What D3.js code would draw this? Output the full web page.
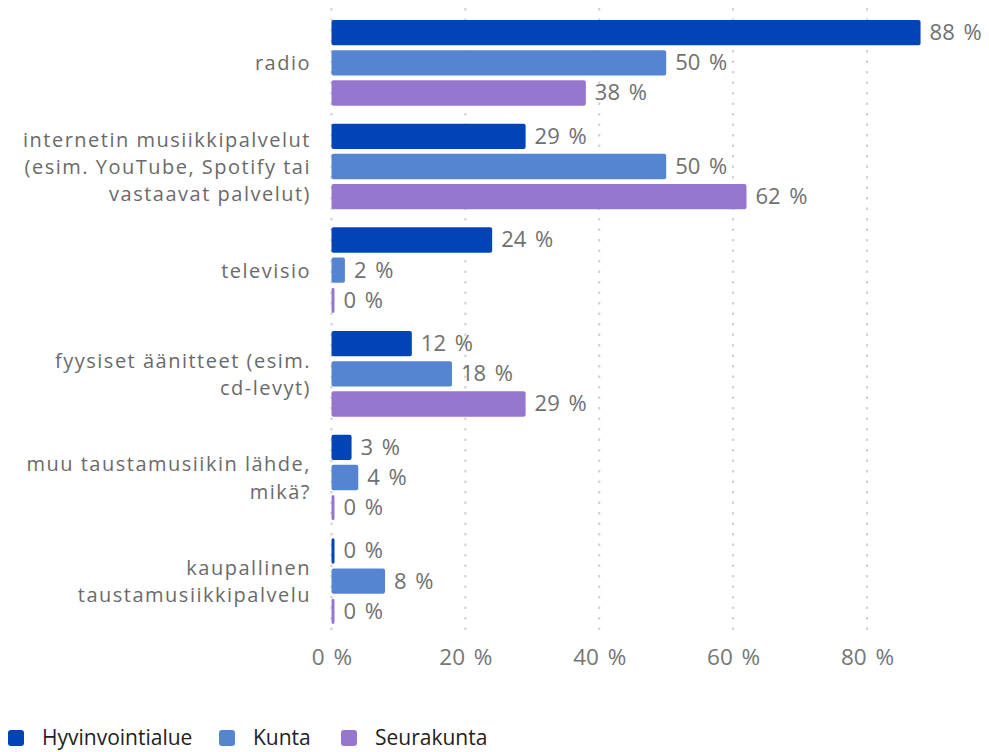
<!DOCTYPE html>
<html><head><meta charset="utf-8">
<script src="https://cdn.jsdelivr.net/npm/d3@7"></script>
<style>body{margin:0;background:#fff;} svg{display:block;font-family:"Open Sans",sans-serif;}</style>
</head><body>
<svg id="c" width="989" height="752"></svg>
<script>
const categories = [
  ["radio"],
  ["internetin musiikkipalvelut","(esim. YouTube, Spotify tai","vastaavat palvelut)"],
  ["televisio"],
  ["fyysiset äänitteet (esim.","cd-levyt)"],
  ["muu taustamusiikin lähde,","mikä?"],
  ["kaupallinen","taustamusiikkipalvelu"]
];
const seriesNames = ["Hyvinvointialue","Kunta","Seurakunta"];
const hyvinvointialue = [88, 29, 24, 12, 3, 0];
const kunta = [50, 50, 2, 18, 4, 8];
const seurakunta = [38, 62, 0, 29, 0, 0];
const colors = ["#0044b8","#5585d1","#9677cf"];
const xTicks = [0, 20, 40, 60, 80];

const series = [hyvinvointialue, kunta, seurakunta];
const svg = d3.select("#c");
const x = d3.scaleLinear().domain([0, 80]).range([331.5, 867]);
const y0 = d3.scaleBand().domain(d3.range(categories.length)).range([11, 633]);
const y1 = d3.scaleBand().domain(d3.range(3)).range([9, y0.bandwidth()-9]).paddingInner(0.16);

// grid
svg.append("g").selectAll("line").data(xTicks).join("line")
  .attr("x1", d => x(d)).attr("x2", d => x(d))
  .attr("y1", 8).attr("y2", 636)
  .attr("stroke", "#d0d0d0").attr("stroke-width", 2)
  .attr("stroke-dasharray", "2.5,8");

// axis
const axis = d3.axisBottom(x).tickValues(xTicks).tickFormat(d => d + "\u00a0%").tickSize(0).tickPadding(0);
const ag = svg.append("g").attr("transform", "translate(0,665)").call(axis);
ag.select(".domain").remove();
ag.selectAll("text").attr("fill", "#767676").attr("font-size", 22.5)
  .attr("font-family", "Open Sans").attr("dy", 0).style("word-spacing", "3px");

// category labels
const lh = 27.3;
const cl = svg.append("g").selectAll("text").data(categories).join("text")
  .attr("text-anchor", "end").attr("fill", "#6a6a6a").attr("font-size", 20)
  .style("letter-spacing", "1.5px")
  .attr("x", 311)
  .attr("y", (d, i) => y0(i) + y0.bandwidth()/2 + 7.5 - (d.length-1)/2*lh);
cl.each(function(lines){
  const t = d3.select(this);
  lines.forEach((ln, j) => {
    t.append("tspan").attr("x", 311).attr("dy", j === 0 ? 0 : lh).text(ln);
  });
});

// bars
const groups = svg.append("g").selectAll("g").data(categories).join("g")
  .attr("transform", (d, i) => `translate(0,${y0(i)})`);
groups.each(function(_, i){
  const g = d3.select(this);
  series.forEach((s, k) => {
    const v = s[i];
    const w = Math.max(x(v) - x(0), 3);
    g.append("rect").attr("x", x(0)).attr("y", y1(k))
      .attr("width", w).attr("height", y1.bandwidth())
      .attr("rx", 2).attr("fill", colors[k]);
    g.append("text").attr("x", x(0) + w + 9).attr("y", y1(k) + y1.bandwidth()/2 + 7.5)
      .attr("fill", "#707070").attr("font-size", 22).style("word-spacing", "3px")
      .text(v + "\u00a0%");
  });
});

// legend
const lg = svg.append("g").attr("transform", "translate(0,738)");
const legX = [8, 219, 341];
seriesNames.forEach((n, k) => {
  lg.append("rect").attr("x", legX[k]).attr("y", -8).attr("width", 16).attr("height", 16)
    .attr("rx", 3).attr("fill", colors[k]);
  lg.append("text").attr("x", legX[k] + 34).attr("y", 7)
    .attr("fill", "#222").attr("font-size", 21).text(n);
});
</script>
</body></html>
